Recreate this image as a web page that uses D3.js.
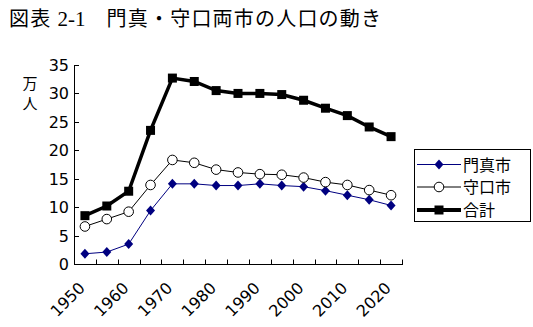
<!DOCTYPE html>
<html>
<head>
<meta charset="utf-8">
<script src="https://cdn.jsdelivr.net/npm/d3@7"></script>
<style>
html,body{margin:0;padding:0;background:#fff;}
svg{display:block;}
</style>
</head>
<body>
<div id="chart"></div>
<script>
const years = ["1950","1955","1960","1965","1970","1975","1980","1985","1990","1995","2000","2005","2010","2015","2020"];
const tickLabels = ["1950","1960","1970","1980","1990","2000","2010","2020"];
const yTicks = [0,5,10,15,20,25,30,35];
const kadoma = [1.8,2.1,3.5,9.4,14.1,14.1,13.8,13.8,14.1,13.8,13.6,12.9,12.1,11.3,10.3];
const moriguchi = [6.6,7.9,9.2,13.9,18.3,17.8,16.6,16.1,15.8,15.7,15.2,14.4,13.9,13.0,12.1];
const total = [8.5,10.2,12.8,23.5,32.7,32.1,30.5,30.0,30.0,29.8,28.8,27.4,26.1,24.1,22.4];
const seriesNames = ["門真市","守口市","合計"];
const titleText = ["図表 ","2-1","　門真・守口両市の人口の動き"];

const W = 533, H = 327;
const svg = d3.select("#chart").append("svg").attr("width", W).attr("height", H);

const x = d3.scaleBand().domain(years).range([74, 402]);
const y = d3.scaleLinear().domain([0, 35]).range([264, 65]);
const cx = d3.scaleLinear().domain([0, years.length - 1]).range([x(years[0]) + x.bandwidth()/2, x(years[years.length-1]) + x.bandwidth()/2]);
const px = (d, i) => x(years[i]) + x.bandwidth()/2;

// title
const t = svg.append("text").attr("x", 9).attr("y", 26)
  .style("font-family", "'Noto Sans CJK JP'").style("font-size", "20px").attr("fill", "#000");
t.append("tspan").text(titleText[0]).style("letter-spacing", "1.3px");
t.append("tspan").text(titleText[1]).style("font-family", "'Liberation Serif'").style("font-size", "21px");
t.append("tspan").text(titleText[2]).style("letter-spacing", "1.2px");

// y axis unit label
svg.append("text").attr("x", 30).attr("y", 89).attr("text-anchor", "middle")
  .style("font-family", "'Noto Sans CJK JP'").style("font-size", "15px").text("万");
svg.append("text").attr("x", 30).attr("y", 109).attr("text-anchor", "middle")
  .style("font-family", "'Noto Sans CJK JP'").style("font-size", "15px").text("人");

// y axis
const yAxis = svg.append("g");
yAxis.append("line").attr("x1", 74.5).attr("x2", 74.5).attr("y1", y(35)).attr("y2", y(0)).attr("stroke", "#000");
yAxis.selectAll(".yt").data(yTicks).enter().append("line")
  .attr("x1", 74.5).attr("x2", 79).attr("y1", d => Math.round(y(d)) + 0.5).attr("y2", d => Math.round(y(d)) + 0.5).attr("stroke", "#000");
yAxis.selectAll(".yl").data(yTicks).enter().append("text")
  .attr("x", 69).attr("y", d => y(d) + 6).attr("text-anchor", "end")
  .style("font-family", "'DejaVu Sans'").style("font-size", "16px").text(d => d);

// x axis
const xAxis = svg.append("g");
xAxis.append("line").attr("x1", 74).attr("x2", 403).attr("y1", 264.5).attr("y2", 264.5).attr("stroke", "#000");
const bounds = years.map(d => x(d)).concat([x(years[years.length-1]) + x.bandwidth()]);
xAxis.selectAll(".xt").data(bounds).enter().append("line")
  .attr("x1", d => Math.round(d) + 0.5).attr("x2", d => Math.round(d) + 0.5).attr("y1", 264.5).attr("y2", 259.5).attr("stroke", "#000");
xAxis.selectAll(".xl").data(tickLabels).enter().append("text")
  .attr("transform", d => `translate(${x(d) + x.bandwidth()/2 + 1},289) rotate(-45)`)
  .attr("text-anchor", "end")
  .style("font-family", "'DejaVu Sans'").style("font-size", "16px").text(d => d);

// lines
const line = d3.line().x((d, i) => px(d, i)).y(d => y(d));
svg.append("path").datum(kadoma).attr("d", line).attr("fill", "none").attr("stroke", "#000080").attr("stroke-width", 1);
svg.append("path").datum(moriguchi).attr("d", line).attr("fill", "none").attr("stroke", "#000").attr("stroke-width", 1);
svg.append("path").datum(total).attr("d", line).attr("fill", "none").attr("stroke", "#000").attr("stroke-width", 3.5);

const diamond = (g, cxp, cyp) => g.append("path")
  .attr("d", `M${cxp},${cyp-5}L${cxp+4.5},${cyp}L${cxp},${cyp+5}L${cxp-4.5},${cyp}Z`).attr("fill", "#000080");
const circle = (g, cxp, cyp) => g.append("circle").attr("cx", cxp).attr("cy", cyp).attr("r", 4.8)
  .attr("fill", "#fff").attr("stroke", "#000").attr("stroke-width", 1);
const square = (g, cxp, cyp) => g.append("rect").attr("x", cxp - 4.5).attr("y", cyp - 4.5).attr("width", 9).attr("height", 9).attr("fill", "#000");

const mk = svg.append("g");
kadoma.forEach((d, i) => diamond(mk, px(d, i), y(d)));
moriguchi.forEach((d, i) => circle(mk, px(d, i), y(d)));
total.forEach((d, i) => square(mk, px(d, i), y(d)));

// legend
const lg = svg.append("g");
lg.append("rect").attr("x", 414.5).attr("y", 149.5).attr("width", 116).attr("height", 72).attr("fill", "#fff").attr("stroke", "#000");
const rows = [164.5, 187, 210];
const styles = [{c:"#000080", w:1, m:diamond}, {c:"#000", w:1, m:circle}, {c:"#000", w:4, m:square}];
seriesNames.forEach((n, i) => {
  lg.append("line").attr("x1", 417).attr("x2", 461).attr("y1", rows[i]).attr("y2", rows[i])
    .attr("stroke", styles[i].c).attr("stroke-width", styles[i].w);
  styles[i].m(lg, 439, rows[i]);
  lg.append("text").attr("x", 463).attr("y", rows[i] + 6)
    .style("font-family", "'Noto Sans CJK JP'").style("font-size", "16px").text(n);
});
</script>
</body>
</html>
